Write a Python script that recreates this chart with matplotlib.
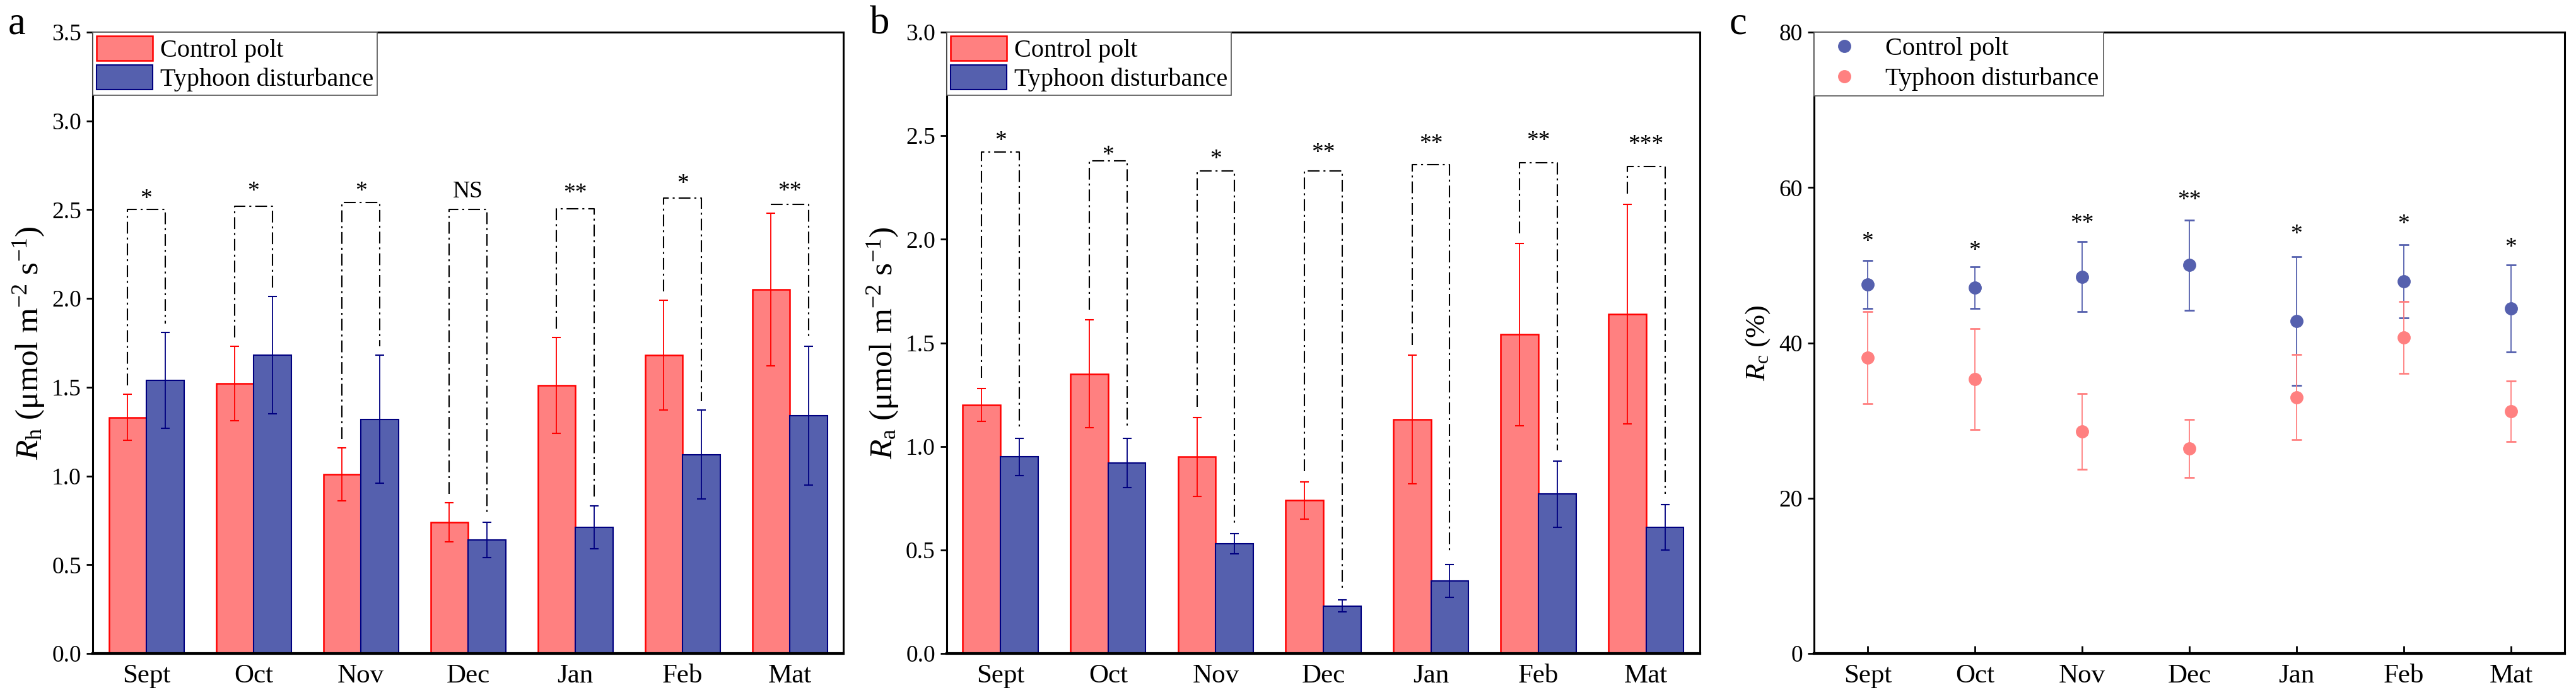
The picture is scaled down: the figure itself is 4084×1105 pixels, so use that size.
import numpy as np
import matplotlib
matplotlib.use("Agg")
import matplotlib.pyplot as plt
from matplotlib.lines import Line2D

plt.rcParams["font.family"] = ["Liberation Serif", "DejaVu Serif"]
plt.rcParams["mathtext.fontset"] = "custom"
plt.rcParams["mathtext.rm"] = "Liberation Serif"
plt.rcParams["mathtext.it"] = "Liberation Serif:italic"

months = ["Sept", "Oct", "Nov", "Dec", "Jan", "Feb", "Mat"]
groups = ["Control polt", "Typhoon disturbance"]

# a: Rh
rh_ctrl = [1.33, 1.52, 1.01, 0.74, 1.51, 1.68, 2.05]
rh_ctrl_err = [0.13, 0.21, 0.15, 0.11, 0.27, 0.31, 0.43]
rh_typh = [1.54, 1.68, 1.32, 0.64, 0.71, 1.12, 1.34]
rh_typh_err = [0.27, 0.33, 0.36, 0.10, 0.12, 0.25, 0.39]
rh_sig = ["*", "*", "*", "NS", "**", "*", "**"]
rh_bracket = [2.50, 2.52, 2.54, 2.50, 2.505, 2.565, 2.53]
rh_sig_y = [2.59, 2.63, 2.63, 2.615, 2.62, 2.675, 2.63]

# b: Ra
ra_ctrl = [1.20, 1.35, 0.95, 0.74, 1.13, 1.54, 1.64]
ra_ctrl_err = [0.08, 0.26, 0.19, 0.09, 0.31, 0.44, 0.53]
ra_typh = [0.95, 0.92, 0.53, 0.23, 0.35, 0.77, 0.61]
ra_typh_err = [0.09, 0.12, 0.05, 0.03, 0.08, 0.16, 0.11]
ra_sig = ["*", "*", "*", "**", "**", "**", "***"]
ra_bracket = [2.42, 2.38, 2.33, 2.33, 2.36, 2.37, 2.35]
ra_sig_y = [2.50, 2.43, 2.41, 2.44, 2.485, 2.50, 2.48]

# c: Rc (%)
rc_ctrl = [47.5, 47.1, 48.5, 50.0, 42.8, 47.9, 44.4]
rc_ctrl_err = [3.1, 2.7, 4.5, 5.8, 8.3, 4.7, 5.6]
rc_typh = [38.1, 35.3, 28.6, 26.4, 33.0, 40.7, 31.2]
rc_typh_err = [5.9, 6.5, 4.9, 3.7, 5.5, 4.6, 3.9]
rc_sig = ["*", "*", "**", "**", "*", "*", "*"]
rc_sig_y = [53.6, 52.5, 56.0, 59.0, 54.6, 55.9, 52.9]

PINK = "#FF8080"
RED = "#FF0000"
BLUE = "#5560AE"
NAVY = "#000080"

fig = plt.figure(figsize=(40.84, 11.05), dpi=100)
ax_a = fig.add_axes([0.036, 0.0624, 0.2914, 0.8914])
ax_b = fig.add_axes([0.3675, 0.0624, 0.2924, 0.8914])
ax_c = fig.add_axes([0.7042, 0.0624, 0.2914, 0.8914])


def sig_text(ax, x, y, s):
    # y is where the glyph centre should sit
    off = -12.5 if "*" in s else -9
    ax.annotate(s, (x, y), xytext=(0, off), textcoords="offset points",
                ha="center", va="baseline", fontsize=27)


def style_axes(ax, ymax, step, fmt):
    ax.set_xlim(-0.5, 6.5)
    ax.set_ylim(0, ymax)
    ax.set_yticks(np.arange(0, ymax + step / 2, step))
    ax.yaxis.set_major_formatter(plt.FormatStrFormatter(fmt))
    ax.set_xticks(np.arange(len(months)))
    ax.set_xticklabels(months)
    ax.tick_params(axis="y", direction="out", length=7, width=2, labelsize=27, pad=6)
    ax.tick_params(axis="x", direction="in", length=7, width=2, labelsize=31, pad=12)
    for sp in ax.spines.values():
        sp.set_linewidth(2.2)
    ax.spines["bottom"].set_linewidth(3)


def bar_panel(ax, ctrl, ctrl_err, typh, typh_err, sig, bracket, sig_y, ymax, ylabel):
    x = np.arange(len(months))
    w = 0.35
    ax.bar(x - w / 2, ctrl, w, color=PINK, edgecolor=RED, linewidth=1.8,
           label=groups[0], zorder=2)
    ax.bar(x + w / 2, typh, w, color=BLUE, edgecolor=NAVY, linewidth=1.5,
           label=groups[1], zorder=2)
    ax.errorbar(x - w / 2, ctrl, yerr=ctrl_err, fmt="none", ecolor=RED,
                elinewidth=1.3, capsize=5, capthick=1.5, zorder=3)
    ax.errorbar(x + w / 2, typh, yerr=typh_err, fmt="none", ecolor=NAVY,
                elinewidth=1.3, capsize=5, capthick=1.5, zorder=3)
    for i in range(len(x)):
        xl, xr = x[i] - w / 2, x[i] + w / 2
        bl = ctrl[i] + ctrl_err[i] + 0.05
        br = typh[i] + typh_err[i] + 0.05
        ax.plot([xl, xl, xr, xr], [bl, bracket[i], bracket[i], br], color="black",
                lw=1.5, linestyle=(0, (9, 3, 1.5, 3)), zorder=4)
        sig_text(ax, x[i], sig_y[i], sig[i])
    style_axes(ax, ymax, 0.5, "%.1f")
    ax.set_ylabel(ylabel, fontsize=37, labelpad=6)
    leg = ax.legend(loc="upper left", borderaxespad=0, fancybox=False,
                    edgecolor="#555555", framealpha=1, fontsize=29,
                    handlelength=2.2, handleheight=1.1, labelspacing=0.1,
                    handletextpad=0.3, borderpad=0.15)
    leg.get_frame().set_linewidth(1.2)


bar_panel(ax_a, rh_ctrl, rh_ctrl_err, rh_typh, rh_typh_err, rh_sig, rh_bracket,
          rh_sig_y, 3.5, r"$R_{\rm h}$ (μmol m$^{-2}$ s$^{-1}$)")
bar_panel(ax_b, ra_ctrl, ra_ctrl_err, ra_typh, ra_typh_err, ra_sig, ra_bracket,
          ra_sig_y, 3.0, r"$R_{\rm a}$ (μmol m$^{-2}$ s$^{-1}$)")

# c: points
xc = np.arange(len(months))
ax_c.errorbar(xc, rc_ctrl, yerr=rc_ctrl_err, fmt="o", color=BLUE, ms=14,
              elinewidth=1.3, capsize=5.5, capthick=2, zorder=3)
ax_c.errorbar(xc, rc_typh, yerr=rc_typh_err, fmt="o", color=PINK, ms=14,
              elinewidth=1.3, capsize=5.5, capthick=2, zorder=3)
for i in range(len(xc)):
    sig_text(ax_c, xc[i], rc_sig_y[i], rc_sig[i])
style_axes(ax_c, 80, 20, "%d")
ax_c.tick_params(axis="x", length=9)
ax_c.set_ylabel(r"$R_{\rm c}$ (%)", fontsize=32, labelpad=8)
handles = [Line2D([], [], ls="none", marker="o", ms=14, color=BLUE),
           Line2D([], [], ls="none", marker="o", ms=14, color=PINK)]
leg = ax_c.legend(handles, groups, loc="upper left", borderaxespad=0,
                  fancybox=False, edgecolor="#555555", framealpha=1, fontsize=29,
                  handlelength=2.0, labelspacing=0.25, handletextpad=0.6,
                  borderpad=0.2)
leg.get_frame().set_linewidth(1.2)

fig.text(0.0032, 0.952, "a", fontsize=45, va="baseline", ha="left")
fig.text(0.3377, 0.952, "b", fontsize=45, va="baseline", ha="left")
fig.text(0.6714, 0.952, "c", fontsize=45, va="baseline", ha="left")

fig.savefig("out.png", dpi=100)
